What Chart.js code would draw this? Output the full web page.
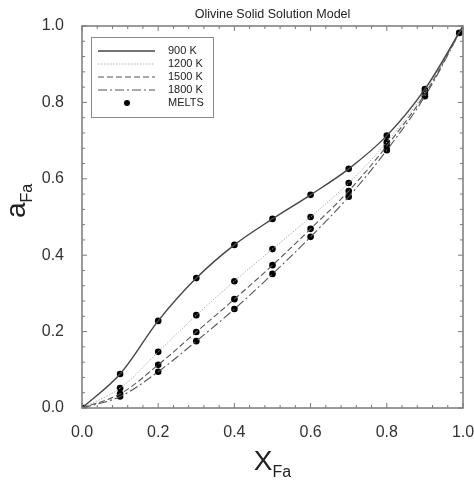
<!DOCTYPE html>
<html>
<head>
<meta charset="utf-8">
<script src="https://cdn.jsdelivr.net/npm/chart.js@4.4.0/dist/chart.umd.min.js"></script>
<style>
  html, body { margin: 0; padding: 0; background: #fff; }
  #wrap { width: 474px; height: 480px; }
</style>
</head>
<body>
<div id="wrap"><canvas id="olivine-chart" width="474" height="480"></canvas></div>
<script>
// Mole fraction of fayalite along the model curves
var xFa = [0, 0.1, 0.2, 0.3, 0.4, 0.5, 0.6, 0.7, 0.8, 0.9, 1.0]

// Activity of fayalite at each temperature
var a900 = [0, 0.089, 0.228, 0.340, 0.427, 0.495, 0.558, 0.626, 0.713, 0.835, 1.0]
var a1200 = [0, 0.052, 0.147, 0.243, 0.332, 0.416, 0.500, 0.589, 0.696, 0.828, 1.0]
var a1500 = [0, 0.037, 0.113, 0.199, 0.285, 0.374, 0.469, 0.568, 0.686, 0.822, 1.0]
var a1800 = [0, 0.030, 0.095, 0.175, 0.259, 0.351, 0.448, 0.553, 0.675, 0.816, 1.0]

// MELTS end points (interior MELTS points sit on the curves)
var meltsEndX = [0.005, 0.99]
var meltsEndA = [0, 0.982]

var tickLabels = ["0.0", "0.2", "0.4", "0.6", "0.8", "1.0"]

var fontFamily = "'Liberation Sans', Arial, sans-serif"

function toPoints(xs, ys) {
    return xs.map(function (x, i) { return { x: x, y: ys[i] } })
}

function meltsPoints() {
    var pts = [{ x: meltsEndX[0], y: meltsEndA[0] }]
    ;[a900, a1200, a1500, a1800].forEach(function (series) {
        for (var i = 1; i < xFa.length - 1; i++) {
            pts.push({ x: xFa[i], y: series[i] })
        }
    })
    pts.push({ x: meltsEndX[1], y: meltsEndA[1] })
    return pts
}

// Draws frame, inward ticks, title, axis titles and the legend box
var decorations = {
    id: "decorations",
    afterDraw: function (chart) {
        var ctx = chart.ctx
        var area = chart.chartArea
        var xs = chart.scales.x
        var ys = chart.scales.y

        ctx.save()
        ctx.strokeStyle = "#7a7a7a"
        ctx.lineWidth = 1.5
        ctx.strokeRect(area.left, area.top, area.right - area.left, area.bottom - area.top)

        ctx.lineWidth = 1
        for (var i = 0; i <= 25; i++) {
            var v = i * 0.04
            var len = (i % 5 === 0) ? 5 : 3
            var px = xs.getPixelForValue(v)
            var py = ys.getPixelForValue(v)
            ctx.beginPath()
            ctx.moveTo(px, area.bottom); ctx.lineTo(px, area.bottom - len)
            ctx.moveTo(px, area.top); ctx.lineTo(px, area.top + len)
            ctx.moveTo(area.left, py); ctx.lineTo(area.left + len, py)
            ctx.moveTo(area.right, py); ctx.lineTo(area.right - len, py)
            ctx.stroke()
        }

        // title
        ctx.fillStyle = "#222"
        ctx.font = "12.5px " + fontFamily
        ctx.textAlign = "center"
        ctx.textBaseline = "alphabetic"
        ctx.fillText("Olivine Solid Solution Model", (area.left + area.right) / 2, 18)

        // x axis title
        ctx.textAlign = "left"
        ctx.font = "28px " + fontFamily
        var wX = ctx.measureText("X").width
        ctx.font = "16px " + fontFamily
        var wSub = ctx.measureText("Fa").width
        var cx = (area.left + area.right) / 2
        var sx = cx - (wX + wSub) / 2
        ctx.font = "28px " + fontFamily
        ctx.fillText("X", sx, 470)
        ctx.font = "16px " + fontFamily
        ctx.fillText("Fa", sx + wX, 477)

        // y axis title
        ctx.save()
        ctx.translate(25, 218)
        ctx.rotate(-Math.PI / 2)
        ctx.font = "28px " + fontFamily
        var wa = ctx.measureText("a").width
        ctx.fillText("a", 0, 0)
        ctx.font = "16px " + fontFamily
        ctx.fillText("Fa", wa, 7)
        ctx.restore()

        // legend
        ctx.strokeStyle = "#8a8a8a"
        ctx.lineWidth = 1
        ctx.strokeRect(91.5, 37.5, 122, 80)
        ctx.font = "11px " + fontFamily
        ctx.textBaseline = "middle"
        var rows = [51, 64, 77, 90, 103]
        chart.data.datasets.forEach(function (ds, k) {
            var y = rows[k]
            if (ds.showLine) {
                ctx.save()
                ctx.strokeStyle = ds.borderColor
                ctx.lineWidth = ds.borderWidth
                ctx.setLineDash(ds.borderDash || [])
                ctx.beginPath()
                ctx.moveTo(98, y); ctx.lineTo(155, y)
                ctx.stroke()
                ctx.restore()
            } else {
                ctx.beginPath()
                ctx.fillStyle = "#000"
                ctx.arc(127, y, 3, 0, Math.PI * 2)
                ctx.fill()
            }
            ctx.fillStyle = "#222"
            ctx.fillText(ds.label, 168, y)
        })
        ctx.restore()
    }
}

function lineSet(label, ys, color, width, dash) {
    return {
        label: label,
        data: toPoints(xFa, ys),
        showLine: true,
        borderColor: color,
        borderWidth: width,
        borderDash: dash,
        pointRadius: 0,
        tension: 0.35,
        fill: false
    }
}

function createChart() {
    new Chart("olivine-chart", {
        type: "scatter",
        data: {
            datasets: [
                lineSet("900 K", a900, "#444", 1.4, []),
                lineSet("1200 K", a1200, "#b0b0b0", 1, [1.5, 1.5]),
                lineSet("1500 K", a1500, "#555", 1.1, [6, 3]),
                lineSet("1800 K", a1800, "#555", 1.1, [9, 3, 2, 3]),
                {
                    label: "MELTS",
                    data: meltsPoints(),
                    showLine: false,
                    pointRadius: 3.3,
                    pointBackgroundColor: "#000",
                    pointBorderColor: "#000",
                    pointBorderWidth: 0
                }
            ]
        },
        options: {
            responsive: false,
            animation: false,
            layout: { padding: { top: 26, right: 11, left: 0, bottom: 0 } },
            plugins: {
                legend: { display: false },
                tooltip: { enabled: false }
            },
            scales: {
                x: {
                    type: "linear",
                    min: 0, max: 1,
                    grid: { display: false },
                    border: { display: false },
                    ticks: {
                        stepSize: 0.2,
                        padding: 7,
                        color: "#333",
                        font: { size: 16, family: fontFamily },
                        maxRotation: 0,
                        callback: function (v, i) { return tickLabels[i] }
                    },
                    afterFit: function (scale) {
                        scale.height = 72
                        scale.paddingLeft = 0
                        scale.paddingRight = 0
                    }
                },
                y: {
                    type: "linear",
                    min: 0, max: 1,
                    grid: { display: false },
                    border: { display: false },
                    ticks: {
                        stepSize: 0.2,
                        padding: 10,
                        color: "#333",
                        font: { size: 16, family: fontFamily },
                        callback: function (v, i) { return tickLabels[i] }
                    },
                    afterFit: function (scale) {
                        scale.width = 82
                        scale.paddingTop = 0
                        scale.paddingBottom = 0
                    }
                }
            }
        },
        plugins: [decorations]
    })
}

createChart()
</script>
</body>
</html>
